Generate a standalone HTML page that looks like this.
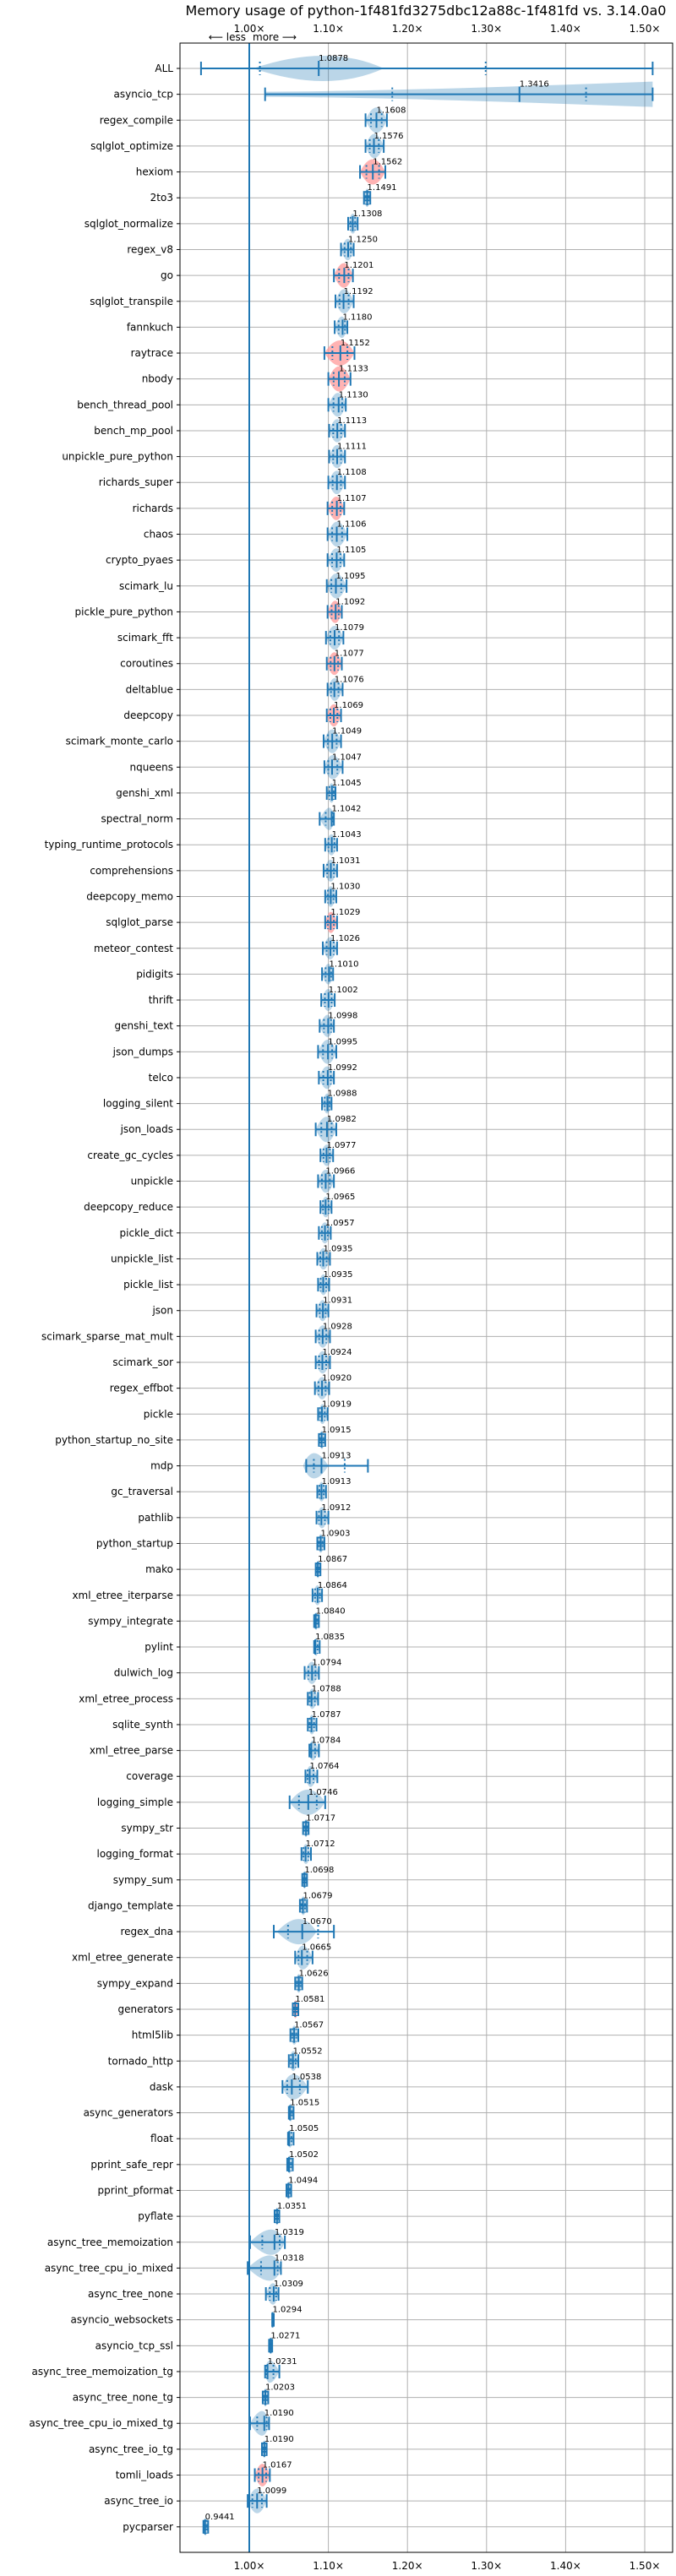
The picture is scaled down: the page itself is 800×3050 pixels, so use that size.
<!DOCTYPE html>
<html><head><meta charset="utf-8"><style>
body{margin:0;background:#fff}
svg{display:block;font-family:"DejaVu Sans","Liberation Sans",sans-serif}
</style></head><body>
<svg id="chart" width="800" height="3050" viewBox="0 0 800 3050" xmlns="http://www.w3.org/2000/svg">
<text x="504" y="18" font-size="16" text-anchor="middle">Memory usage of python-1f481fd3275dbc12a88c-1f481fd vs. 3.14.0a0</text>
<g id="grid"></g><g id="marks"></g><g id="axes"></g>
</svg>
<script>
const names=["ALL","asyncio_tcp","regex_compile","sqlglot_optimize","hexiom","2to3","sqlglot_normalize","regex_v8","go","sqlglot_transpile","fannkuch","raytrace","nbody","bench_thread_pool","bench_mp_pool","unpickle_pure_python","richards_super","richards","chaos","crypto_pyaes","scimark_lu","pickle_pure_python","scimark_fft","coroutines","deltablue","deepcopy","scimark_monte_carlo","nqueens","genshi_xml","spectral_norm","typing_runtime_protocols","comprehensions","deepcopy_memo","sqlglot_parse","meteor_contest","pidigits","thrift","genshi_text","json_dumps","telco","logging_silent","json_loads","create_gc_cycles","unpickle","deepcopy_reduce","pickle_dict","unpickle_list","pickle_list","json","scimark_sparse_mat_mult","scimark_sor","regex_effbot","pickle","python_startup_no_site","mdp","gc_traversal","pathlib","python_startup","mako","xml_etree_iterparse","sympy_integrate","pylint","dulwich_log","xml_etree_process","sqlite_synth","xml_etree_parse","coverage","logging_simple","sympy_str","logging_format","sympy_sum","django_template","regex_dna","xml_etree_generate","sympy_expand","generators","html5lib","tornado_http","dask","async_generators","float","pprint_safe_repr","pprint_pformat","pyflate","async_tree_memoization","async_tree_cpu_io_mixed","async_tree_none","asyncio_websockets","asyncio_tcp_ssl","async_tree_memoization_tg","async_tree_none_tg","async_tree_cpu_io_mixed_tg","async_tree_io_tg","tomli_loads","async_tree_io","pycparser"];
const medians=[1.0878,1.3416,1.1608,1.1576,1.1562,1.1491,1.1308,1.1250,1.1201,1.1192,1.1180,1.1152,1.1133,1.1130,1.1113,1.1111,1.1108,1.1107,1.1106,1.1105,1.1095,1.1092,1.1079,1.1077,1.1076,1.1069,1.1049,1.1047,1.1045,1.1042,1.1043,1.1031,1.1030,1.1029,1.1026,1.1010,1.1002,1.0998,1.0995,1.0992,1.0988,1.0982,1.0977,1.0966,1.0965,1.0957,1.0935,1.0935,1.0931,1.0928,1.0924,1.0920,1.0919,1.0915,1.0913,1.0913,1.0912,1.0903,1.0867,1.0864,1.0840,1.0835,1.0794,1.0788,1.0787,1.0784,1.0764,1.0746,1.0717,1.0712,1.0698,1.0679,1.0670,1.0665,1.0626,1.0581,1.0567,1.0552,1.0538,1.0515,1.0505,1.0502,1.0494,1.0351,1.0319,1.0318,1.0309,1.0294,1.0271,1.0231,1.0203,1.0190,1.0190,1.0167,1.0099,0.9441];
const lows=[0.939,1.020,1.147,1.147,1.140,1.145,1.125,1.116,1.107,1.109,1.108,1.095,1.100,1.100,1.101,1.101,1.100,1.099,1.099,1.099,1.098,1.099,1.097,1.098,1.099,1.098,1.094,1.095,1.098,1.089,1.096,1.094,1.096,1.096,1.093,1.092,1.091,1.089,1.087,1.088,1.092,1.084,1.090,1.087,1.090,1.088,1.086,1.087,1.085,1.084,1.084,1.083,1.087,1.088,1.072,1.086,1.085,1.086,1.084,1.080,1.082,1.082,1.070,1.074,1.074,1.076,1.071,1.051,1.068,1.066,1.067,1.064,1.031,1.058,1.058,1.055,1.052,1.050,1.042,1.050,1.049,1.048,1.047,1.032,1.001,0.998,1.021,1.029,1.025,1.020,1.017,1.001,1.016,1.007,0.998,0.942];
const highs=[1.510,1.510,1.174,1.170,1.172,1.153,1.137,1.132,1.131,1.132,1.124,1.133,1.128,1.122,1.121,1.121,1.121,1.120,1.124,1.120,1.123,1.117,1.119,1.117,1.118,1.116,1.116,1.118,1.109,1.107,1.111,1.111,1.110,1.111,1.111,1.106,1.108,1.107,1.110,1.107,1.104,1.110,1.106,1.107,1.104,1.103,1.102,1.101,1.100,1.102,1.102,1.101,1.099,1.096,1.150,1.097,1.100,1.095,1.090,1.092,1.088,1.089,1.088,1.087,1.085,1.088,1.086,1.096,1.075,1.078,1.073,1.073,1.107,1.080,1.067,1.062,1.062,1.062,1.074,1.056,1.056,1.055,1.053,1.038,1.045,1.040,1.037,1.031,1.029,1.038,1.024,1.025,1.022,1.026,1.022,0.948];
const worse=[8,11,12,17,21,23,25,33,4,75,93];
// density body overrides for rows whose distribution is narrower than their whiskers: [row, bodyLo, bodyPeak, bodyHi]
const bodyRows=[0,54,72];
const bodyLo=[1.005,1.068,1.035];
const bodyPeak=[1.100,1.080,1.065];
const bodyHi=[1.170,1.100,1.085];
const xTicks=[1.0,1.1,1.2,1.3,1.4,1.5];
const xTickLabels=["1.00×","1.10×","1.20×","1.30×","1.40×","1.50×"];

const NS="http://www.w3.org/2000/svg";
const L=213,R=796,T=51,B=3022;
const x=v=>295+(v-1)*936;
const y=i=>81+i*30.64;
function mk(tag,attrs,parent,text){const e=document.createElementNS(NS,tag);for(const k in attrs)e.setAttribute(k,attrs[k]);if(text!==undefined)e.textContent=text;parent.appendChild(e);return e;}
const grid=document.getElementById('grid'),marks=document.getElementById('marks'),axes=document.getElementById('axes');

xTicks.forEach((t,k)=>{
  const g=mk('line',{x1:x(t),x2:x(t),y1:T,y2:B,stroke:'#b0b0b0','stroke-width':1},grid);
  
  
  const a=mk('text',{x:x(t),y:38,'font-size':12,'text-anchor':'middle'},axes,xTickLabels[k]);
  
  
  const b=mk('text',{x:x(t),y:3042,'font-size':12,'text-anchor':'middle'},axes,xTickLabels[k]);
  
  
});
names.forEach((n,i)=>{
  const g=mk('line',{x1:L,x2:R,y1:y(i),y2:y(i),stroke:'#b0b0b0','stroke-width':1},grid);
  
  
  mk('line',{x1:L-4,x2:L,y1:y(i),y2:y(i),stroke:'#000'},axes);
  const t=mk('text',{x:L-8,y:y(i)+4,'font-size':12,'text-anchor':'end'},axes,n);
  
  
});
const base=mk('line',{x1:x(1),x2:x(1),y1:T,y2:B,stroke:'#1f77b4','stroke-width':2},marks);



names.forEach((n,i)=>{
  const cy=y(i),m=medians[i],lo=lows[i],hi=highs[i];
  const red=worse.includes(i);
  const xl=x(lo),xr=x(hi),xm=x(m);
  const g=mk('g',{},marks);
  
  
  let d;
  const bi=bodyRows.indexOf(i);
  if(n==='asyncio_tcp'){
    d=`M${xl},${cy-3} C${x(1.2)},${cy-4} ${x(1.35)},${cy-10} ${xr},${cy-15} L${xr},${cy+15} C${x(1.35)},${cy+10} ${x(1.2)},${cy+4} ${xl},${cy+3} Z`;
  } else if(bi>=0){
    const bl=x(bodyLo[bi]),bp=x(bodyPeak[bi]),bh=x(bodyHi[bi]);
    d=`M${bl},${cy} Q${bp},${cy-30} ${bh},${cy} Q${bp},${cy+30} ${bl},${cy} Z`;
  } else {
    const h=Math.min(15,9+(xr-xl)*0.25);
    d=`M${xl},${cy} Q${xm},${cy-2*h} ${xr},${cy} Q${xm},${cy+2*h} ${xl},${cy} Z`;
  }
  mk('path',{d:d,fill:red?'#ff9999':'#1f77b4','fill-opacity':red?0.75:0.3},g);
  mk('line',{x1:xl,x2:xr,y1:cy,y2:cy,stroke:'#1f77b4','stroke-width':2},g);
  [xl,xr].forEach(px=>mk('line',{x1:px,x2:px,y1:cy-8,y2:cy+8,stroke:'#1f77b4','stroke-width':2},g));
  mk('line',{x1:xm,x2:xm,y1:cy-9,y2:cy+9,stroke:'#1f77b4','stroke-width':2},g);
  [m-(m-lo)*0.5,m+(hi-m)*0.5].forEach(q=>mk('line',{x1:x(q),x2:x(q),y1:cy-8,y2:cy+8,stroke:'#1f77b4','stroke-width':2,'stroke-dasharray':'2,3'},g));
  const lb=mk('text',{x:xm,y:cy-9,'font-size':10},g,m.toFixed(4));
  
  
});
const frame=mk('rect',{x:L,y:T,width:R-L,height:B-T,fill:'none',stroke:'#000','stroke-width':1},axes);


const less=mk('text',{x:x(1)-4,y:48,'font-size':12,'text-anchor':'end'},axes,'⟵ less');


const more=mk('text',{x:x(1)+4,y:48,'font-size':12},axes,'more ⟶');


</script>
</body></html>
